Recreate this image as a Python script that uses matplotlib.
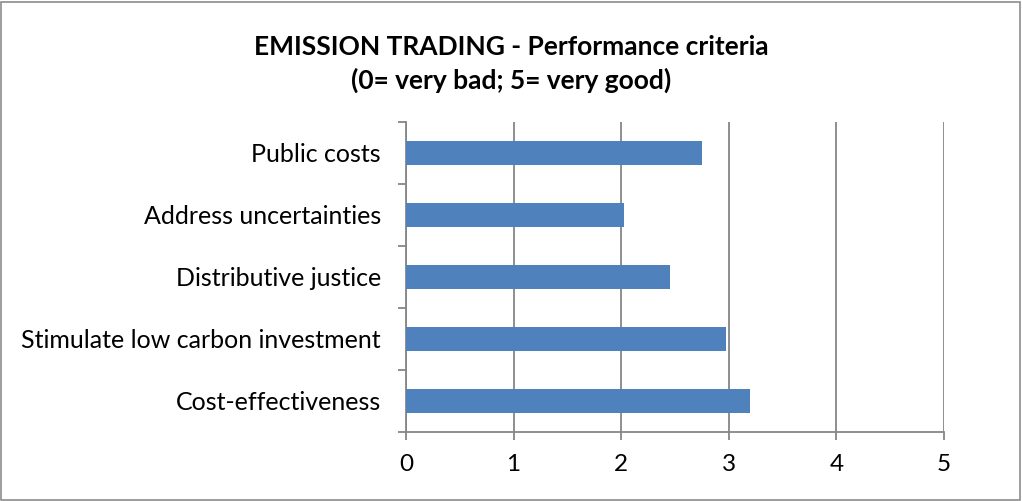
import numpy as np
import matplotlib.pyplot as plt
from matplotlib.patches import Rectangle

# Data
categories = ['Cost-effectiveness', 'Stimulate low carbon investment',
              'Distributive justice', 'Address uncertainties', 'Public costs']
scores = [3.2, 2.97, 2.45, 2.03, 2.75]
x_ticks = [0, 1, 2, 3, 4, 5]

title = 'EMISSION TRADING - Performance criteria\n(0= very bad; 5= very good)'

plt.rcParams['font.family'] = ['Lato', 'DejaVu Sans']

fig = plt.figure(figsize=(10.22, 5.01), dpi=100)
ax = fig.add_axes([406 / 1022, 1 - 432 / 501, 538 / 1022, 310 / 501])

y = np.arange(len(categories))
ax.barh(y, scores, height=0.4, color='#4F81BD', zorder=3)

ax.set_xlim(0, 5)
ax.set_ylim(-0.5, len(categories) - 0.5)
ax.set_xticks(x_ticks)
ax.set_xticklabels([str(t) for t in x_ticks], fontsize=17.5)
ax.set_yticks(y)
ax.set_yticklabels(categories, fontsize=18)
ax.set_yticks(np.arange(len(categories) + 1) - 0.5, minor=True)

grid_col = '#868686'
ax.grid(axis='x', color=grid_col, linewidth=1.3, zorder=0)
ax.tick_params(axis='y', which='major', length=0, pad=18)
ax.tick_params(axis='y', which='minor', length=6, color=grid_col, width=1.3)
ax.tick_params(axis='x', length=6, color=grid_col, width=1.3, pad=10)

for side in ['top', 'right']:
    ax.spines[side].set_visible(False)
for side in ['left', 'bottom']:
    ax.spines[side].set_color(grid_col)
    ax.spines[side].set_linewidth(1.3)

fig.text(0.5, 1 - 64 / 501, title, ha='center', va='center',
         fontsize=19, fontweight='bold', linespacing=1.45)

# outer chart frame
fig.patches.append(Rectangle((0.001, 0.002), 0.997, 0.995, transform=fig.transFigure,
                             fill=False, edgecolor='#8c8c8c', linewidth=1.2))

fig.savefig('out.png', dpi=100)
